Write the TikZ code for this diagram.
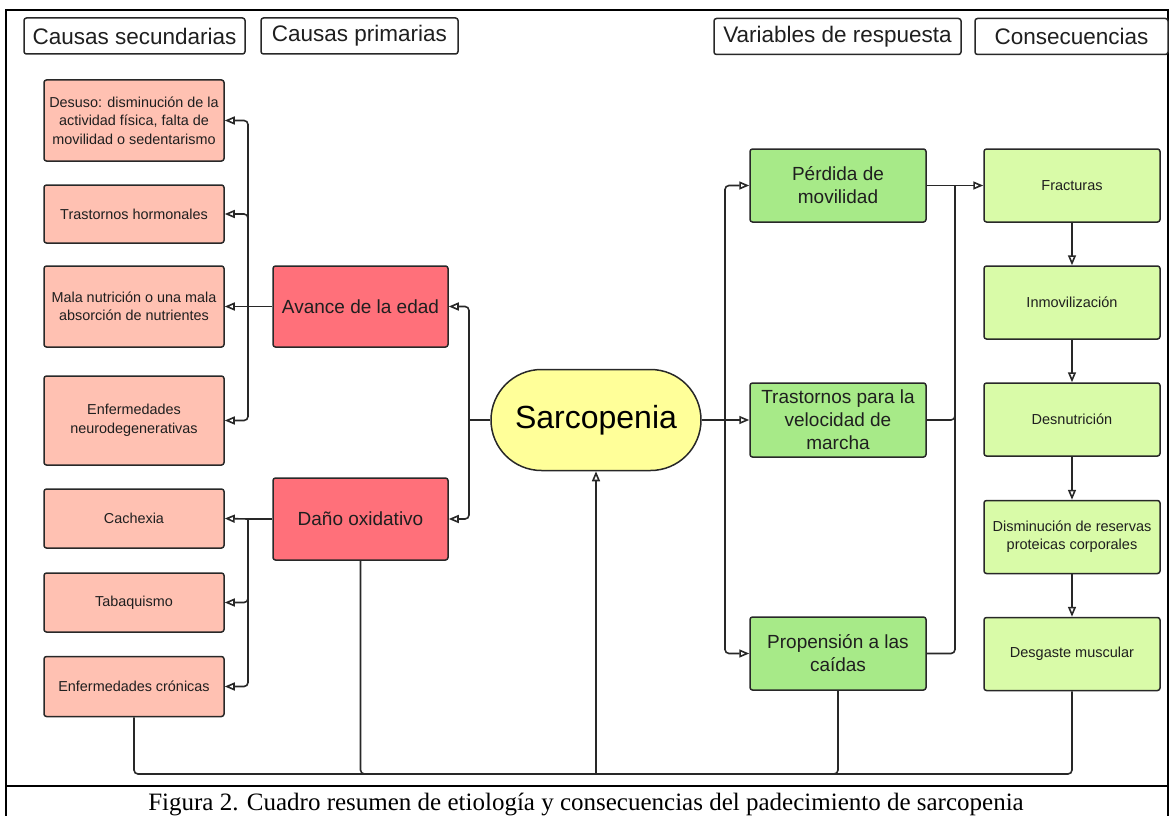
\documentclass[tikz,border=0pt]{standalone}
\usepackage{fontspec}
\setmainfont{Liberation Serif}
\newfontfamily\arialfont{Liberation Sans}
\usetikzlibrary{arrows.meta,shapes.misc}

\definecolor{secfill}{RGB}{255,193,178}
\definecolor{primfill}{RGB}{255,112,122}
\definecolor{sarcfill}{RGB}{255,255,153}
\definecolor{varfill}{RGB}{167,234,136}
\definecolor{consfill}{RGB}{217,251,168}
\definecolor{edgegray}{RGB}{40,40,40}

\begin{document}
\begin{tikzpicture}
        [x=1pt, y=-1pt,
        box/.style={draw=edgegray, line width=1.5pt, rounded corners=2.5pt, align=center, inner sep=0pt, text=black!88},
        header/.style={box, fill=white, minimum height=36pt, font=\arialfont\fontsize{22.5}{26}\selectfont},
        secondary/.style={box, fill=secfill, minimum width=180pt, font=\arialfont\fontsize{14.4}{18.5}\selectfont},
        primary/.style={box, fill=primfill, minimum width=175pt, minimum height=81pt, font=\arialfont\fontsize{19}{23}\selectfont},
        varbox/.style={box, fill=varfill, minimum width=176pt, minimum height=73pt, font=\arialfont\fontsize{19}{23}\selectfont},
        consbox/.style={box, fill=consfill, minimum width=176pt, minimum height=73pt, font=\arialfont\fontsize{14.5}{18}\selectfont},
        line/.style={draw=edgegray, line width=1.6pt, rounded corners=4pt},
        arr/.style={line, -{Triangle[open, length=10pt, width=8pt]}},
        frame/.style={black, line width=2pt}]

        \useasboundingbox (0,0) rectangle (1170,816);

        % table frame and caption
        \draw[frame] (6,816) -- (6,10) -- (1168,10) -- (1168,816);
        \draw[frame] (6,786) -- (1168,786);
        \node[anchor=base, font=\fontsize{25}{30}\selectfont] (caption) at (586,810)
            {Figura 2. Cuadro resumen de etiología y consecuencias del padecimiento de sarcopenia};

        % column headers
        \node[header, minimum width=221pt] (hsec) at (134.5,36) {Causas secundarias};
        \node[header, minimum width=197pt] (hprim) at (359.5,36) {Causas primarias};
        \node[header, minimum width=247pt] (hvar) at (837.5,36.5) {Variables de respuesta};
        \node[header, minimum width=193pt] (hcons) at (1071.5,36.5) {Consecuencias};

        % secondary causes
        \node[secondary, minimum height=81pt] (desuso) at (134,120.5) {Desuso: disminución de la\\actividad física, falta de\\movilidad o sedentarismo};
        \node[secondary, minimum height=58pt] (hormonal) at (134,214) {Trastornos hormonales};
        \node[secondary, minimum height=81pt] (nutricion) at (134,306.5) {Mala nutrición o una mala\\absorción de nutrientes};
        \node[secondary, minimum height=89pt] (neuro) at (134,420.5) {Enfermedades\\neurodegenerativas};
        \node[secondary, minimum height=59pt] (cachexia) at (134,518.5) {Cachexia};
        \node[secondary, minimum height=59pt] (tabaco) at (134,602.5) {Tabaquismo};
        \node[secondary, minimum height=60pt] (cronicas) at (134,686.5) {Enfermedades crónicas};

        % primary causes
        \node[primary] (avance) at (360.5,306.5) {Avance de la edad};
        \node[primary, minimum height=82pt] (dano) at (360.5,519) {Daño oxidativo};

        % centre
        \node[draw=edgegray, line width=1.5pt, fill=sarcfill, rounded rectangle, minimum width=210pt, minimum height=101pt,
            inner sep=0pt, font=\arialfont\fontsize{32}{36}\selectfont] (sarc) at (596,420) {Sarcopenia};

        % response variables
        \node[varbox] (perdida) at (838,185.5) {Pérdida de\\movilidad};
        \node[varbox, minimum height=74pt] (velocidad) at (838,420) {Trastornos para la\\velocidad de\\marcha};
        \node[varbox] (propension) at (838,653.5) {Propensión a las\\caídas};

        % consequences
        \node[consbox] (fracturas) at (1072,185.5) {Fracturas};
        \node[consbox] (inmov) at (1072,302.5) {Inmovilización};
        \node[consbox] (desnut) at (1072,419.5) {Desnutrición};
        \node[consbox] (reservas) at (1072,537) {Disminución de reservas\\proteicas corporales};
        \node[consbox] (desgaste) at (1072,654) {Desgaste muscular};

        % junction points
        \coordinate (jA) at (248,306.5);
        \coordinate (jD) at (248,519);
        \coordinate (jS) at (469,420);
        \coordinate (jV) at (725,420);
        \coordinate (jC) at (955,185.5);
        \coordinate (jB) at (596,774);

        % primary -> secondary
        \draw[line] (avance.west) -- (jA);
        \draw[arr] (jA) |- (desuso.east);
        \draw[arr] (jA) |- (hormonal.east);
        \draw[arr] (jA) -- (nutricion.east);
        \draw[arr] (jA) |- (neuro.east);
        \draw[line] (dano.west) -- (jD);
        \draw[arr] (jD) -- (cachexia.east);
        \draw[arr] (jD) |- (tabaco.east);
        \draw[arr] (jD) |- (cronicas.east);

        % sarcopenia -> primary causes
        \draw[line] (sarc.west) -- (jS);
        \draw[arr] (jS) |- (avance.east);
        \draw[arr] (jS) |- (dano.east);

        % sarcopenia -> response variables
        \draw[line] (sarc.east) -- (jV);
        \draw[arr] (jV) |- (perdida.west);
        \draw[arr] (jV) -- (velocidad.west);
        \draw[arr] (jV) |- (propension.west);

        % response variables -> consequences
        \draw[arr] (perdida.east) -- (fracturas.west);
        \draw[line] (velocidad.east) -| (jC);
        \draw[line] (propension.east) -| (jC);
        \foreach \a/\b in {fracturas/inmov, inmov/desnut, desnut/reservas, reservas/desgaste}
            \draw[arr] (\a) -- (\b);

        % feedback loop along the bottom
        \draw[line] (cronicas.south) |- (jB);
        \draw[line] (dano.south) |- (jB);
        \draw[line] (propension.south) |- (jB);
        \draw[line] (desgaste.south) |- (jB);
        \draw[arr] (jB) -- (sarc.south);

        \end{tikzpicture}
\end{document}
